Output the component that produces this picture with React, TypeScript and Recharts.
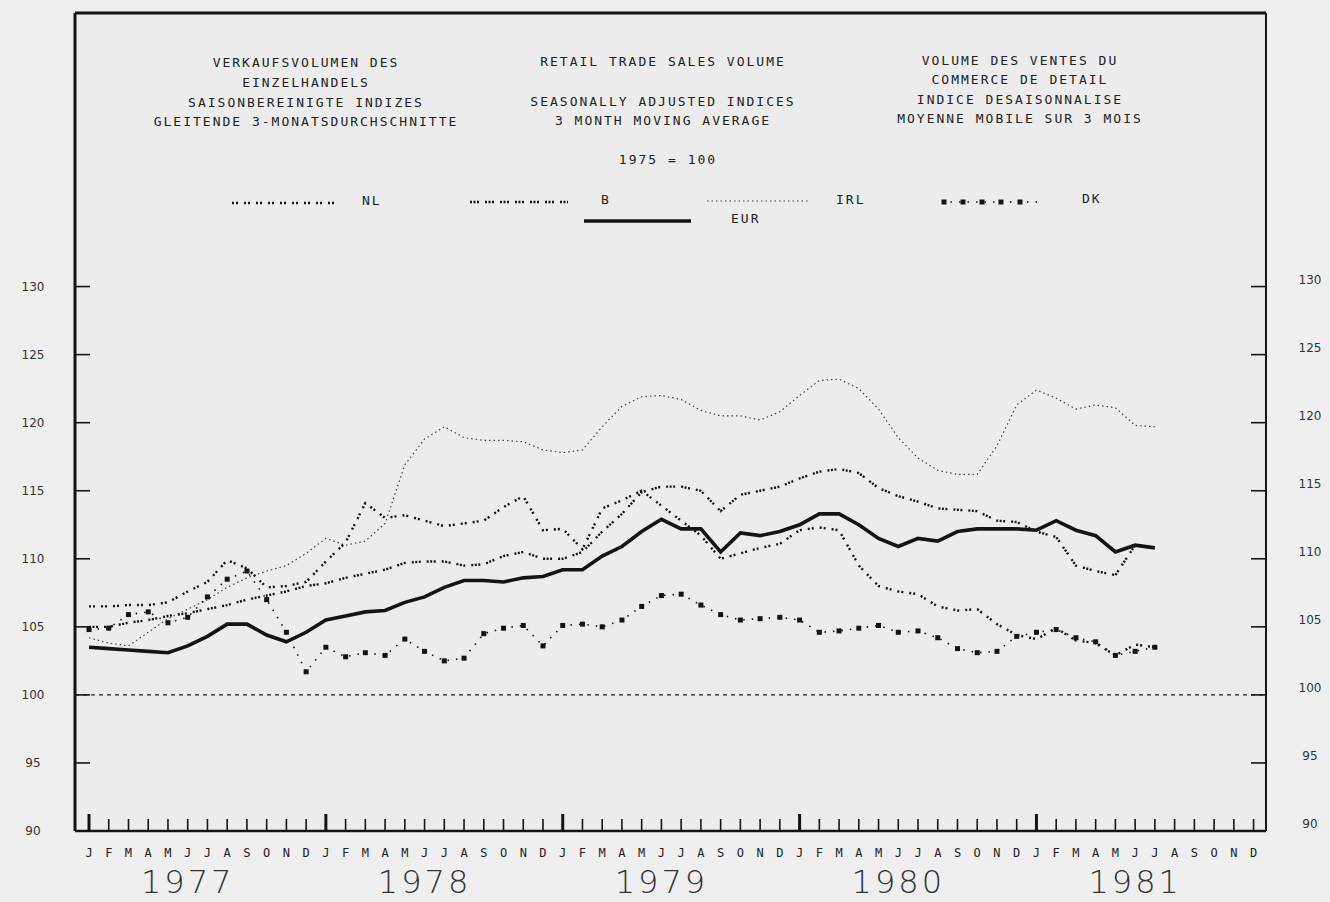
import React from 'react'
import { LineChart, Line, XAxis, YAxis, CartesianGrid, ReferenceLine } from 'recharts'

// month index 0 = Jan 1977
const MONTH_LETTERS = ['J', 'F', 'M', 'A', 'M', 'J', 'J', 'A', 'S', 'O', 'N', 'D']
const YEARS = ['1977', '1978', '1979', '1980', '1981']
const Y_TICKS = [90, 95, 100, 105, 110, 115, 120, 125, 130]

const EUR = [
  103.5, 103.4, 103.3, 103.2, 103.1, 103.6, 104.3, 105.2, 105.2, 104.4, 103.9, 104.6,
  105.5, 105.8, 106.1, 106.2, 106.8, 107.2, 107.9, 108.4, 108.4, 108.3, 108.6, 108.7,
  109.2, 109.2, 110.2, 110.9, 112.0, 112.9, 112.2, 112.2, 110.5, 111.9, 111.7, 112.0,
  112.5, 113.3, 113.3, 112.5, 111.5, 110.9, 111.5, 111.3, 112.0, 112.2, 112.2, 112.2,
  112.1, 112.8, 112.1, 111.7, 110.5, 111.0, 110.8,
]
const B = [
  105.0, 105.0, 105.3, 105.5, 105.8, 106.0, 106.3, 106.6, 107.0, 107.3, 107.6, 108.0,
  108.2, 108.6, 108.9, 109.2, 109.7, 109.8, 109.8, 109.5, 109.6, 110.2, 110.5, 110.0,
  110.0, 110.5, 112.0, 113.3, 114.9, 115.3, 115.3, 115.0, 113.5, 114.7, 115.0, 115.3,
  115.9, 116.4, 116.6, 116.3, 115.2, 114.6, 114.2, 113.7, 113.6, 113.5, 112.8, 112.7,
  112.0, 111.6, 109.5, 109.1, 108.8, 111.0, 110.8,
]
const NL = [
  106.5, 106.5, 106.6, 106.6, 106.8, 107.6, 108.3, 109.9, 109.3, 107.9, 108.0, 108.3,
  109.8, 111.2, 114.1, 113.0, 113.2, 112.8, 112.4, 112.6, 112.8, 113.8, 114.6, 112.1,
  112.2, 110.7, 113.7, 114.3, 115.0, 113.9, 112.8, 111.7, 110.0, 110.4, 110.8, 111.1,
  112.1, 112.3, 112.1, 109.5, 108.0, 107.6, 107.4, 106.5, 106.2, 106.3, 105.2, 104.4,
  104.1, 104.9, 104.0, 103.8, 102.9, 103.7, 103.5,
]
const IRL = [
  104.2, 103.8, 103.6, 104.6, 105.6, 106.3, 107.0, 107.9, 108.6, 109.1, 109.5, 110.4,
  111.5, 111.0, 111.3, 112.6, 116.9, 118.8, 119.7, 118.9, 118.7, 118.7, 118.6, 118.0,
  117.8, 118.0, 119.7, 121.2, 121.9, 122.0, 121.7, 120.9, 120.5, 120.5, 120.2, 120.8,
  122.0, 123.1, 123.2, 122.5, 121.0, 118.9, 117.4, 116.5, 116.2, 116.2, 118.3, 121.3,
  122.4, 121.8, 121.0, 121.3, 121.1, 119.8, 119.7,
]
const DK = [
  104.8, 104.9, 105.9, 106.1, 105.3, 105.7, 107.2, 108.5, 109.1, 107.0, 104.6, 101.7,
  103.5, 102.8, 103.1, 102.9, 104.1, 103.2, 102.5, 102.7, 104.5, 104.9, 105.1, 103.6,
  105.1, 105.2, 105.0, 105.5, 106.5, 107.3, 107.4, 106.6, 105.9, 105.5, 105.6, 105.7,
  105.5, 104.6, 104.7, 104.9, 105.1, 104.6, 104.7, 104.2, 103.4, 103.1, 103.2, 104.3,
  104.6, 104.8, 104.2, 103.9, 102.9, 103.2, 103.5,
]

const data = EUR.map((v, i) => ({ i, eur: v, b: B[i], nl: NL[i], irl: IRL[i], dk: DK[i] }))
const monthTicks = Array.from({ length: YEARS.length * 12 }, (_, i) => i)

const Y_MAX = 150.1
const INK = '#141414'
const MONO = "'DejaVu Sans Mono', monospace"

const NL_DASH = '2 2 2 6'
const B_DASH = '2 1.5 2 1.5 2 6'
const IRL_DASH = '1.5 3'
const DK_DASH = '1.5 7'

function MonthTick({ x, y, payload }: any) {
  const i = payload.value
  const jan = i % 12 === 0
  return (
    <g>
      <line x1={x} x2={x} y1={y} y2={y - (jan ? 17 : 12)} stroke={INK} strokeWidth={jan ? 3 : 1.6} />
      <text x={x} y={y + 26} textAnchor="middle" fontFamily={MONO} fontSize={12} fill="#222">
        {MONTH_LETTERS[i % 12]}
      </text>
      {i % 12 === 5 && (
        <text x={x} y={y + 62} textAnchor="middle" fontFamily="'DejaVu Sans', sans-serif"
          fontWeight={200} fontSize={32} letterSpacing={3} fill="#333">
          {YEARS[Math.floor(i / 12)]}
        </text>
      )}
    </g>
  )
}

function LeftTick({ x, y, payload }: any) {
  return (
    <g>
      {payload.value > 90 && <line x1={x} x2={x + 15} y1={y} y2={y} stroke={INK} strokeWidth={1.6} />}
      <text x={x - 42} y={y + 4} textAnchor="middle" fontFamily="'DejaVu Sans', sans-serif" fontSize={12} fill="#333">
        {payload.value}
      </text>
    </g>
  )
}

function RightTick({ x, y, payload }: any) {
  return (
    <g>
      {payload.value > 90 && <line x1={x - 15} x2={x} y1={y} y2={y} stroke={INK} strokeWidth={1.6} />}
      <text x={x + 44} y={y - 3} textAnchor="middle" fontFamily="'DejaVu Sans', sans-serif" fontSize={12} fill="#333">
        {payload.value}
      </text>
    </g>
  )
}

const SquareDot = ({ cx, cy }: any) => <rect x={cx - 2.5} y={cy - 2.5} width={5} height={5} fill={INK} />

const titleStyle = { fontFamily: MONO, fontSize: 13, letterSpacing: 2, fill: '#222' } as const

export default function App() {
  return (
    <div style={{ position: 'absolute', left: 0, top: 0, width: 1330, height: 902, background: '#efefef' }}>
      <LineChart width={1330} height={902} data={data} margin={{ top: 13, right: 0, bottom: 0, left: 15 }}>
        <CartesianGrid horizontal={false} vertical={false} fill="#ececec" />
        <XAxis dataKey="i" type="number" domain={[-0.71, 59.63]} allowDataOverflow ticks={monthTicks}
          interval={0} height={71} tickSize={0} tickMargin={0} tickLine={false}
          axisLine={{ stroke: INK, strokeWidth: 2.5 }} tick={<MonthTick />} />
        <YAxis domain={[90, Y_MAX]} ticks={Y_TICKS} interval={0} width={60} tickSize={0} tickMargin={0}
          tickLine={false} axisLine={{ stroke: INK, strokeWidth: 3 }} tick={<LeftTick />} allowDataOverflow />
        <YAxis yAxisId="r" orientation="right" domain={[90, Y_MAX]} ticks={Y_TICKS} interval={0} width={64}
          tickSize={0} tickMargin={0} tickLine={false} axisLine={{ stroke: INK, strokeWidth: 2 }}
          tick={<RightTick />} allowDataOverflow />
        <ReferenceLine y={Y_MAX} stroke={INK} strokeWidth={3} />
        <ReferenceLine y={100} stroke="#222" strokeWidth={1.4} strokeDasharray="4 4" />
        <Line dataKey="irl" stroke="#444" strokeWidth={1.2} strokeDasharray={IRL_DASH} dot={false} isAnimationActive={false} />
        <Line dataKey="nl" stroke={INK} strokeWidth={2.4} strokeDasharray={NL_DASH} dot={false} isAnimationActive={false} />
        <Line dataKey="b" stroke={INK} strokeWidth={2.4} strokeDasharray={B_DASH} dot={false} isAnimationActive={false} />
        <Line dataKey="dk" stroke={INK} strokeWidth={1.6} strokeDasharray={DK_DASH} dot={<SquareDot />} isAnimationActive={false} />
        <Line dataKey="eur" stroke={INK} strokeWidth={3.6} dot={false} isAnimationActive={false} />
      </LineChart>

      <svg width={1330} height={902} style={{ position: 'absolute', left: 0, top: 0, pointerEvents: 'none' }}>
        <g textAnchor="middle" style={titleStyle}>
          <text x={306} y={67}>VERKAUFSVOLUMEN DES</text>
          <text x={306} y={87}>EINZELHANDELS</text>
          <text x={306} y={107}>SAISONBEREINIGTE INDIZES</text>
          <text x={306} y={126}>GLEITENDE 3-MONATSDURCHSCHNITTE</text>
          <text x={663} y={66}>RETAIL TRADE SALES VOLUME</text>
          <text x={663} y={106}>SEASONALLY ADJUSTED INDICES</text>
          <text x={663} y={125}>3 MONTH MOVING AVERAGE</text>
          <text x={668} y={164}>1975 = 100</text>
          <text x={1020} y={65}>VOLUME DES VENTES DU</text>
          <text x={1020} y={84}>COMMERCE DE DETAIL</text>
          <text x={1020} y={104}>INDICE DESAISONNALISE</text>
          <text x={1020} y={123}>MOYENNE MOBILE SUR 3 MOIS</text>
        </g>
        <g style={titleStyle}>
          <line x1={232} x2={334} y1={203} y2={203} stroke={INK} strokeWidth={2.4} strokeDasharray={NL_DASH} />
          <text x={362} y={205}>NL</text>
          <line x1={470} x2={568} y1={202} y2={202} stroke={INK} strokeWidth={2.4} strokeDasharray={B_DASH} />
          <text x={601} y={204}>B</text>
          <line x1={707} x2={808} y1={201} y2={201} stroke="#444" strokeWidth={1.2} strokeDasharray={IRL_DASH} />
          <text x={836} y={204}>IRL</text>
          <line x1={942} x2={1037} y1={202} y2={202} stroke={INK} strokeWidth={1.6} strokeDasharray={DK_DASH} />
          {[944, 963, 982, 1001, 1020].map(x => (
            <rect key={x} x={x - 2.5} y={199.5} width={5} height={5} fill={INK} />
          ))}
          <text x={1082} y={203}>DK</text>
          <line x1={584} x2={691} y1={221} y2={221} stroke={INK} strokeWidth={3.6} />
          <text x={731} y={223}>EUR</text>
        </g>
      </svg>
    </div>
  )
}
